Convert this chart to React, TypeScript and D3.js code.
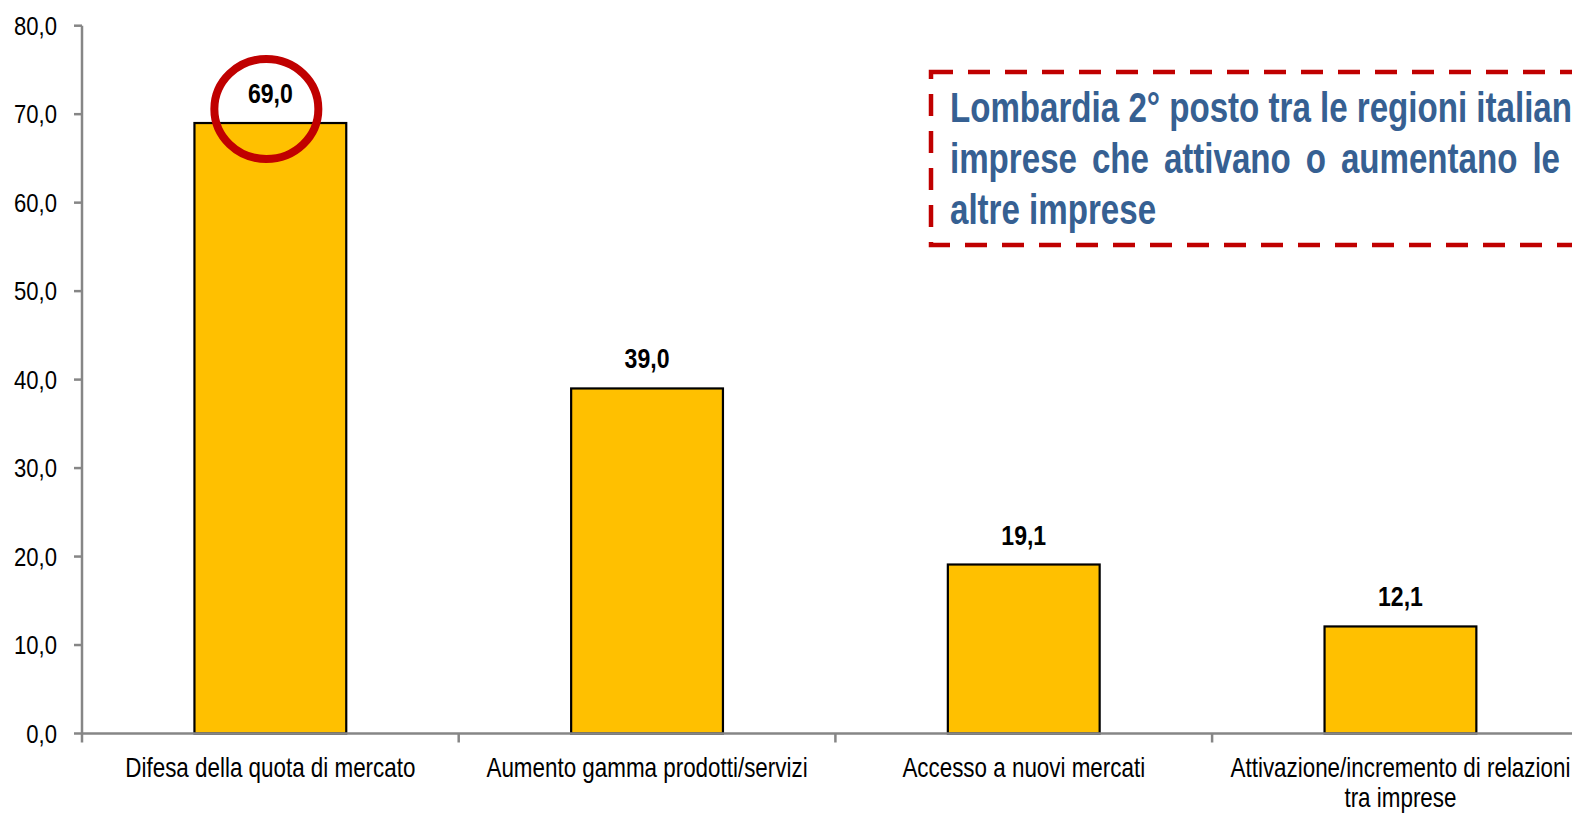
import React, { useEffect, useRef } from "react";
import * as d3 from "d3";

const categories = [
  "Difesa della quota di mercato",
  "Aumento gamma prodotti/servizi",
  "Accesso a nuovi mercati",
  "Attivazione/incremento di relazioni tra imprese",
];
const categoryLines = [
  ["Difesa della quota di mercato"],
  ["Aumento gamma prodotti/servizi"],
  ["Accesso a nuovi mercati"],
  ["Attivazione/incremento di relazioni", "tra imprese"],
];
const values = [69.0, 39.0, 19.1, 12.1];
const yTicks = [0, 10, 20, 30, 40, 50, 60, 70, 80];
const highlightIndex = 0;
const noteLines = [
  "Lombardia 2° posto tra le regioni italiane",
  "imprese che attivano o aumentano le",
  "altre imprese",
];

const W = 1572;
const H = 813;
const FONT = "'Liberation Sans', Arial, sans-serif";
const fmt = (v: number) => v.toFixed(1).replace(".", ",");

export default function App() {
  const noteRef = useRef<SVGTextElement>(null);

  const x = d3
    .scaleBand<string>()
    .domain(categories)
    .range([82, 82 + 4 * 376.7])
    .paddingInner(0.597)
    .paddingOuter(0.2985);
  const y = d3.scaleLinear().domain([0, 80]).range([733.5, 25.7]);
  const step = x.step();
  const x0 = x.range()[0];

  const noteX = 950;
  const noteScale = 0.77;
  const justifyTo = 1560;

  useEffect(() => {
    const el = noteRef.current;
    if (!el) return;
    const sel = d3.select(el);
    sel.attr("word-spacing", 0);
    const len = el.getComputedTextLength();
    const target = (justifyTo - noteX) / noteScale;
    const words = noteLines[1].split(" ").length;
    const extra = (target - len) / (words - 1);
    sel.attr("word-spacing", Math.max(0, extra));
  }, []);

  const hx = (x(categories[highlightIndex]) as number) + x.bandwidth() / 2 - 4;
  const hy = y(values[highlightIndex]) - 14;

  return (
    <div style={{ position: "absolute", left: 0, top: 0, width: W, height: H, overflow: "hidden", background: "#fff" }}>
      <svg width={W} height={H} style={{ display: "block" }} fontFamily={FONT}>
        {/* bars */}
        {categories.map((c, i) => (
          <rect
            key={c}
            x={x(c)}
            y={y(values[i])}
            width={x.bandwidth()}
            height={y(0) - y(values[i])}
            fill="#FFC000"
            stroke="#000"
            strokeWidth={2.2}
          />
        ))}

        {/* y axis */}
        <line x1={x0} x2={x0} y1={y(80)} y2={y(0)} stroke="#868686" strokeWidth={2.5} />
        {yTicks.map((t) => (
          <g key={t}>
            <line x1={x0 - 8} x2={x0} y1={y(t)} y2={y(t)} stroke="#868686" strokeWidth={2.5} />
            <g transform={`translate(57,${y(t) + 9}) scale(0.85,1)`}>
              <text textAnchor="end" fontSize={26} fill="#000">
                {fmt(t)}
              </text>
            </g>
          </g>
        ))}

        {/* x axis */}
        <line x1={x0} x2={W} y1={y(0)} y2={y(0)} stroke="#868686" strokeWidth={2.5} />
        {d3.range(0, categories.length + 1).map((k) => (
          <line
            key={k}
            x1={x0 + k * step}
            x2={x0 + k * step}
            y1={y(0)}
            y2={y(0) + 9}
            stroke="#868686"
            strokeWidth={2.5}
          />
        ))}
        {categories.map((c, i) => (
          <g key={c} transform={`translate(${(x(c) as number) + x.bandwidth() / 2},777) scale(0.83,1)`}>
            {categoryLines[i].map((ln, j) => (
              <text key={j} y={j * 30} textAnchor="middle" fontSize={27} fill="#000">
                {ln}
              </text>
            ))}
          </g>
        ))}

        {/* value labels */}
        {categories.map((c, i) => (
          <g key={c} transform={`translate(${(x(c) as number) + x.bandwidth() / 2},${y(values[i]) - 20}) scale(0.855,1)`}>
            <text textAnchor="middle" fontSize={27} fontWeight="bold" fill="#000">
              {fmt(values[i])}
            </text>
          </g>
        ))}

        {/* highlight circle */}
        <ellipse cx={hx} cy={hy} rx={52} ry={50} fill="none" stroke="#C00000" strokeWidth={8} />

        {/* annotation box */}
        <rect
          x={931}
          y={72}
          width={700}
          height={173}
          fill="none"
          stroke="#C00000"
          strokeWidth={4.5}
          strokeDasharray="22 15"
        />
        <g transform={`translate(${noteX},0) scale(${noteScale},1)`} fontSize={43} fontWeight="bold" fill="#366092">
          <text y={122}>{noteLines[0]}</text>
          <text y={173} ref={noteRef}>
            {noteLines[1]}
          </text>
          <text y={224}>{noteLines[2]}</text>
        </g>
      </svg>
    </div>
  );
}
